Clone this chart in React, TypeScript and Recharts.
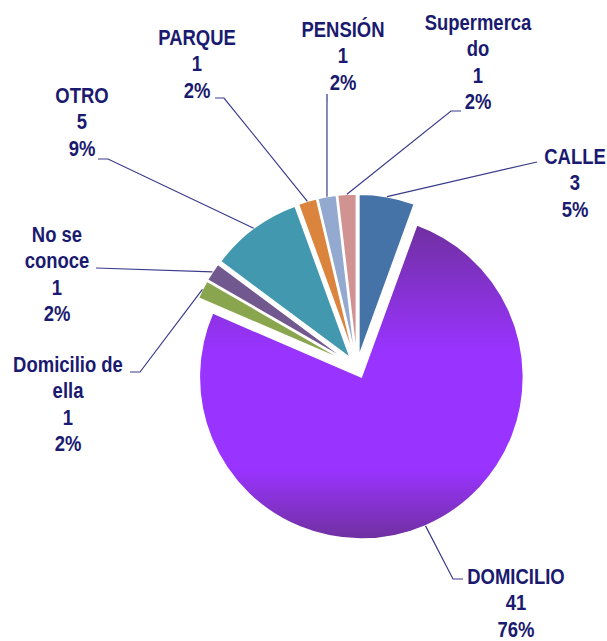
import React from "react";
import { PieChart, Pie, Cell, Sector } from "recharts";

// values, clockwise from 12 o'clock
const NAMES = [
  "CALLE",
  "DOMICILIO",
  "Domicilio de ella",
  "No se conoce",
  "OTRO",
  "PARQUE",
  "PENSIÓN",
  "Supermercado",
];
const VALUES = [3, 41, 1, 1, 5, 1, 1, 1];
const PERCENT_LABELS = ["5%", "76%", "2%", "2%", "9%", "2%", "2%", "2%"];

// how the category names wrap in the labels
const NAME_LINES: Record<string, string[]> = {
  "Domicilio de ella": ["Domicilio de", "ella"],
  "No se conoce": ["No se", "conoce"],
  Supermercado: ["Supermerca", "do"],
};

const COLORS = [
  "#4572A7",
  "url(#gradDomicilio)",
  "#89A54E",
  "#71588F",
  "#4198AF",
  "#DB843D",
  "#93A9CF",
  "#D19392",
];

// label block placement (text centre x, first baseline y, leader elbow, leader end)
const LABEL_LAYOUT = [
  { x: 575, y: 164, elbow: [537, 162], end: [537, 162] },
  { x: 516, y: 584, elbow: [453, 579], end: [463, 579] },
  { x: 68, y: 372, elbow: [140, 372], end: [130, 372] },
  { x: 57, y: 242, elbow: [96, 268], end: [96, 268] },
  { x: 82, y: 103, elbow: [108, 159], end: [98, 159] },
  { x: 197, y: 45, elbow: [224, 98], end: [215, 98] },
  { x: 343, y: 37, elbow: [327, 94], end: [327, 94] },
  { x: 478, y: 30, elbow: [451, 111], end: [461, 111] },
];

const data = NAMES.map((name, i) => ({ name, value: VALUES[i] }));

const EXPLODE = 11;
const RAD = Math.PI / 180;
const LINE_H = 26.5;
const NARROW = 0.84;
const TEXT_COLOR = "#1a1a70";
const FONT = "'Liberation Sans', Arial, sans-serif";

const ExplodedSector = (props: any) => {
  const { cx, cy, midAngle } = props;
  const dx = EXPLODE * Math.cos(-midAngle * RAD);
  const dy = EXPLODE * Math.sin(-midAngle * RAD);
  return <Sector {...props} cx={cx + dx} cy={cy + dy} />;
};

const renderLabel = (props: any) => {
  const { cx, cy, midAngle, outerRadius, index } = props;
  const r = outerRadius + EXPLODE;
  const ax = cx + r * Math.cos(-midAngle * RAD);
  const ay = cy + r * Math.sin(-midAngle * RAD);
  const layout = LABEL_LAYOUT[index];
  const name = NAMES[index];
  const lines = [...(NAME_LINES[name] || [name]), String(VALUES[index]), PERCENT_LABELS[index]];
  return (
    <g key={`label-${index}`}>
      <polyline
        points={`${ax},${ay} ${layout.elbow[0]},${layout.elbow[1]} ${layout.end[0]},${layout.end[1]}`}
        fill="none"
        stroke="#3a3a8c"
        strokeWidth={1.2}
      />
      <g transform={`translate(${layout.x},0) scale(${NARROW},1)`}>
        <text
          x={0}
          y={layout.y}
          textAnchor="middle"
          fill={TEXT_COLOR}
          fontFamily={FONT}
          fontWeight="bold"
          fontSize={22}
        >
          {lines.map((ln, i) => (
            <tspan key={i} x={0} y={layout.y + i * LINE_H}>
              {ln}
            </tspan>
          ))}
        </text>
      </g>
    </g>
  );
};

const App = () => {
  return (
    <div style={{ position: "absolute", left: 0, top: 0, background: "#fff" }}>
      <PieChart width={607} height={641}>
        <defs>
          <linearGradient id="gradDomicilio" x1="0" y1="0" x2="0" y2="1">
            <stop offset="0%" stopColor="#7030A0" />
            <stop offset="40%" stopColor="#9933FF" />
            <stop offset="78%" stopColor="#9933FF" />
            <stop offset="100%" stopColor="#7030A0" />
          </linearGradient>
        </defs>
        <Pie
          data={data}
          dataKey="value"
          nameKey="name"
          cx={352}
          cy={362}
          outerRadius={162}
          startAngle={90}
          endAngle={-270}
          stroke="#ffffff"
          strokeWidth={1.5}
          shape={ExplodedSector}
          label={renderLabel}
          labelLine={false}
          isAnimationActive={false}
        >
          {data.map((entry, index) => (
            <Cell key={`cell-${index}`} fill={COLORS[index]} />
          ))}
        </Pie>
      </PieChart>
    </div>
  );
};

export default App;
